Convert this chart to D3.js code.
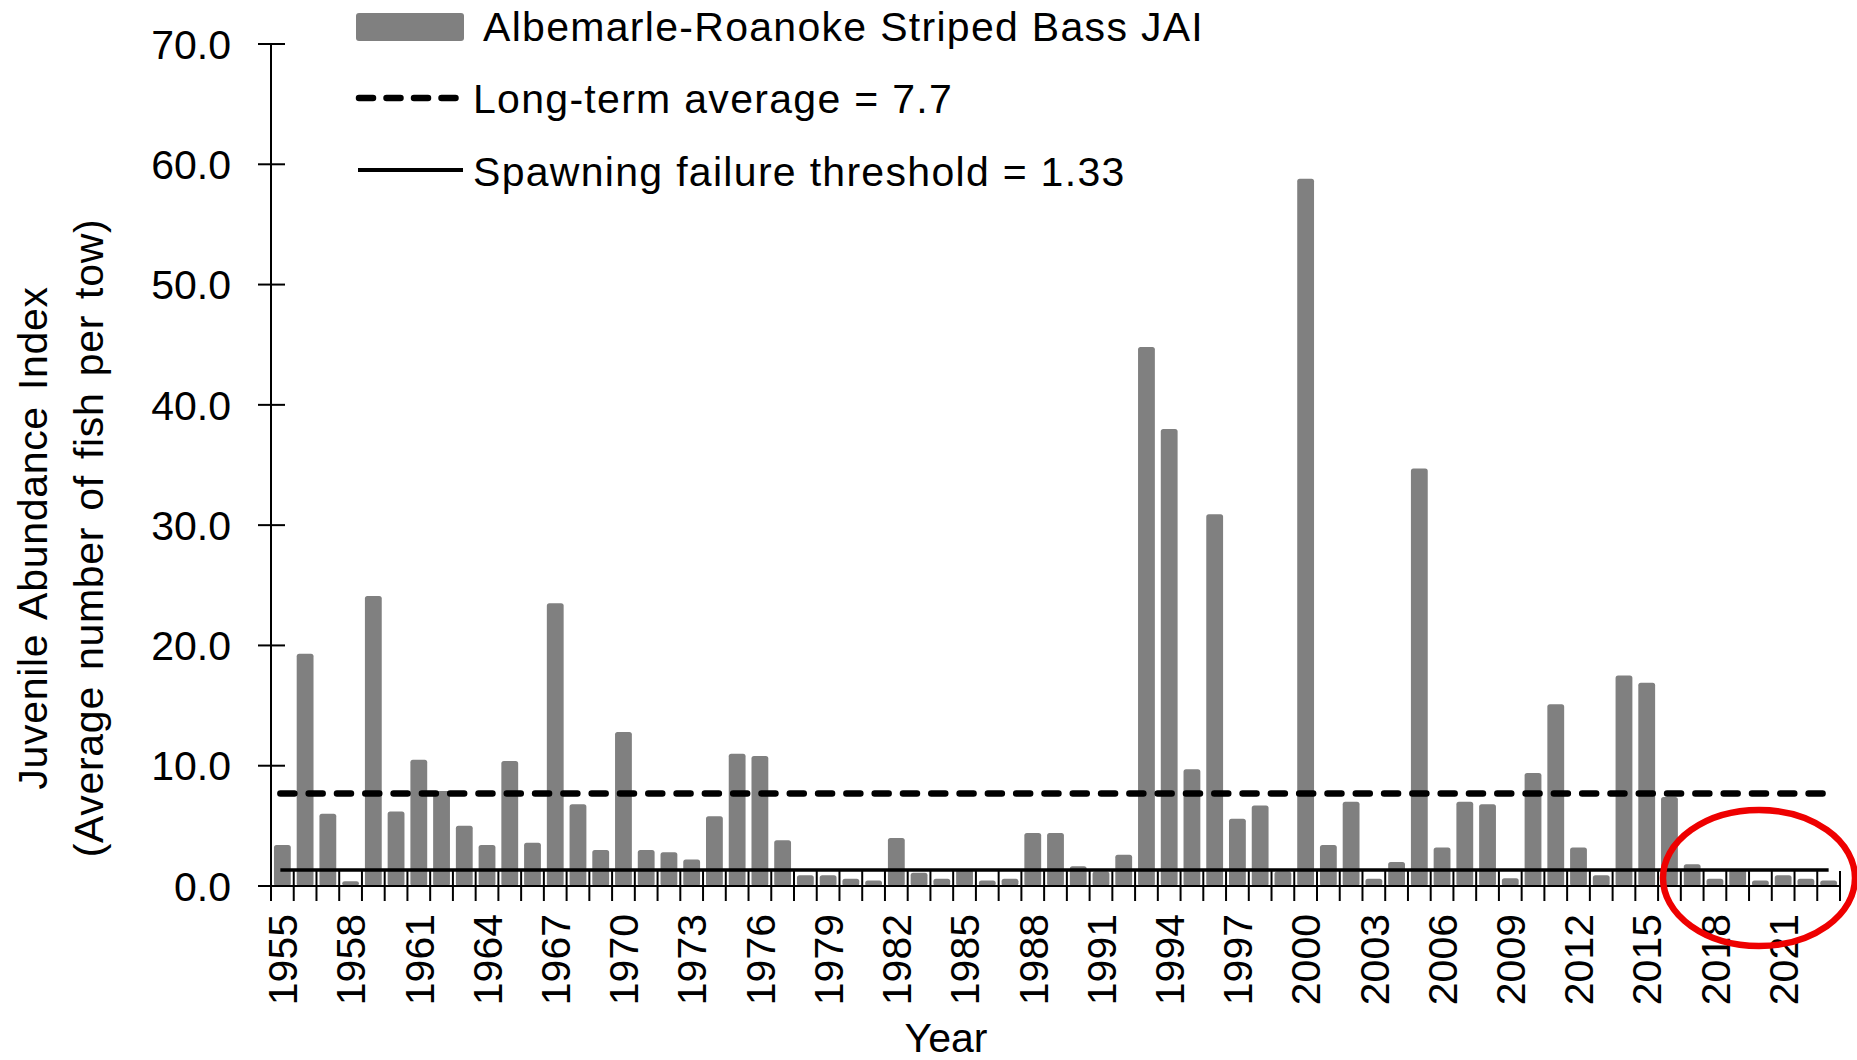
<!DOCTYPE html>
<html>
<head>
<meta charset="utf-8">
<script src="https://cdn.jsdelivr.net/npm/d3@7"></script>
<style>
  body { margin: 0; background: #fff; }
  text { font-family: "Liberation Sans", Arial, sans-serif; fill: #000; }
</style>
</head>
<body>
<svg width="1857" height="1060"></svg>
<script>
const years = d3.range(1955, 2024)
const jai = [3.4, 19.3, 6.0, 0.4, 24.1, 6.2, 10.5, 7.9, 5.0, 3.4,
  10.4, 3.6, 23.5, 6.8, 3.0, 12.8, 3.0, 2.8, 2.2, 5.8,
  11.0, 10.8, 3.8, 0.9, 0.9, 0.6, 0.45, 4.0, 1.1, 0.6,
  1.4, 0.45, 0.6, 4.4, 4.4, 1.65, 1.2, 2.6, 44.8, 38.0,
  9.7, 30.9, 5.6, 6.7, 1.2, 58.8, 3.4, 7.0, 0.6, 2.0,
  34.7, 3.2, 7.0, 6.8, 0.65, 9.4, 15.1, 3.2, 0.9, 17.5,
  16.9, 7.4, 1.8, 0.6, 1.4, 0.45, 0.9, 0.6, 0.45]
const yTicks = [0, 10, 20, 30, 40, 50, 60, 70]
const longTermAvg = 7.7
const threshold = 1.33
const legendLabels = ['Albemarle-Roanoke Striped Bass JAI', 'Long-term average = 7.7', 'Spawning failure threshold = 1.33']

const svg = d3.select('svg')
const fs = 41

const x = d3.scaleBand()
  .domain(years)
  .range([271, 1840])
  .paddingInner(0.26)
  .paddingOuter(0.13)

const y = d3.scaleLinear()
  .domain([0, 70])
  .range([886, 44])

// bars
svg.append('g').selectAll('rect')
  .data(years)
  .enter().append('rect')
    .attr('x', d => x(d))
    .attr('width', x.bandwidth())
    .attr('y', (d, i) => y(jai[i]))
    .attr('height', (d, i) => y(0) - y(jai[i]))
    .attr('rx', 2.5)
    .attr('fill', '#808080')

// reference lines
const step = x.step()
const firstC = x(years[0]) + x.bandwidth() / 2
const lastC = x(years[years.length - 1]) + x.bandwidth() / 2

svg.append('line')
  .attr('x1', firstC - 2).attr('x2', lastC - 5)
  .attr('y1', y(longTermAvg)).attr('y2', y(longTermAvg))
  .attr('stroke', '#000').attr('stroke-width', 6.5)
  .attr('stroke-dasharray', '14,14.3')
  .attr('stroke-linecap', 'round')

svg.append('line')
  .attr('x1', firstC - 2).attr('x2', lastC)
  .attr('y1', y(threshold)).attr('y2', y(threshold))
  .attr('stroke', '#000').attr('stroke-width', 3.5)

// y axis
const yAxis = svg.append('g')
yAxis.append('line')
  .attr('x1', 271).attr('x2', 271)
  .attr('y1', y(70)).attr('y2', y(0))
  .attr('stroke', '#000').attr('stroke-width', 2)
yAxis.selectAll('.tk').data(yTicks).enter().append('line')
  .attr('x1', 258).attr('x2', 285)
  .attr('y1', d => y(d)).attr('y2', d => y(d))
  .attr('stroke', '#000').attr('stroke-width', 2)
yAxis.selectAll('text').data(yTicks).enter().append('text')
  .attr('x', 231)
  .attr('y', d => y(d))
  .attr('dy', '0.36em')
  .attr('text-anchor', 'end')
  .style('font-size', fs + 'px')
  .text(d => d3.format('.1f')(d))

// x axis
const xAxis = svg.append('g')
xAxis.append('line')
  .attr('x1', 271).attr('x2', 1840)
  .attr('y1', y(0)).attr('y2', y(0))
  .attr('stroke', '#000').attr('stroke-width', 2)
xAxis.selectAll('.tk').data(d3.range(years.length + 1)).enter().append('line')
  .attr('x1', i => 271 + i * step).attr('x2', i => 271 + i * step)
  .attr('y1', y(0) - 15).attr('y2', y(0) + 15)
  .attr('stroke', '#000').attr('stroke-width', 2)
xAxis.selectAll('text').data(years.filter((d, i) => i % 3 === 0)).enter().append('text')
  .attr('transform', d => `translate(${x(d) + x.bandwidth() / 2},914) rotate(-90)`)
  .attr('dy', '0.36em')
  .attr('text-anchor', 'end')
  .style('font-size', fs + 'px')
  .text(d => d)

svg.append('text')
  .attr('x', 946).attr('y', 1052)
  .attr('text-anchor', 'middle')
  .style('font-size', fs + 'px')
  .text('Year')

// y title
const yt = svg.append('text')
  .attr('transform', 'translate(0,538) rotate(-90)')
  .attr('text-anchor', 'middle')
  .style('font-size', fs + 'px')
  .style('word-spacing', '4px')
  .style('letter-spacing', '0.7px')
yt.append('tspan').attr('x', 0).attr('y', 47).text('Juvenile Abundance Index')
yt.append('tspan').attr('x', 0).attr('y', 103).text('(Average number of fish per tow)')

// legend
const lg = svg.append('g')
lg.append('rect')
  .attr('x', 356).attr('y', 13).attr('width', 108).attr('height', 28)
  .attr('rx', 3).attr('fill', '#808080')
lg.append('line')
  .attr('x1', 359).attr('x2', 462).attr('y1', 98).attr('y2', 98)
  .attr('stroke', '#000').attr('stroke-width', 6.5)
  .attr('stroke-dasharray', '14,13.5').attr('stroke-linecap', 'round')
lg.append('line')
  .attr('x1', 358).attr('x2', 463).attr('y1', 170).attr('y2', 170)
  .attr('stroke', '#000').attr('stroke-width', 4)
lg.selectAll('text').data(legendLabels).enter().append('text')
  .attr('x', (d, i) => i === 0 ? 483 : 473)
  .attr('y', (d, i) => [26, 98, 171][i])
  .attr('dy', '0.36em')
  .style('font-size', fs + 'px')
  .style('letter-spacing', '1.3px')
  .text(d => d)

// red highlight ellipse
svg.append('ellipse')
  .attr('cx', 1759).attr('cy', 878)
  .attr('rx', 96).attr('ry', 68)
  .attr('fill', 'none')
  .attr('stroke', '#ee0000')
  .attr('stroke-width', 6.5)
</script>
</body>
</html>
